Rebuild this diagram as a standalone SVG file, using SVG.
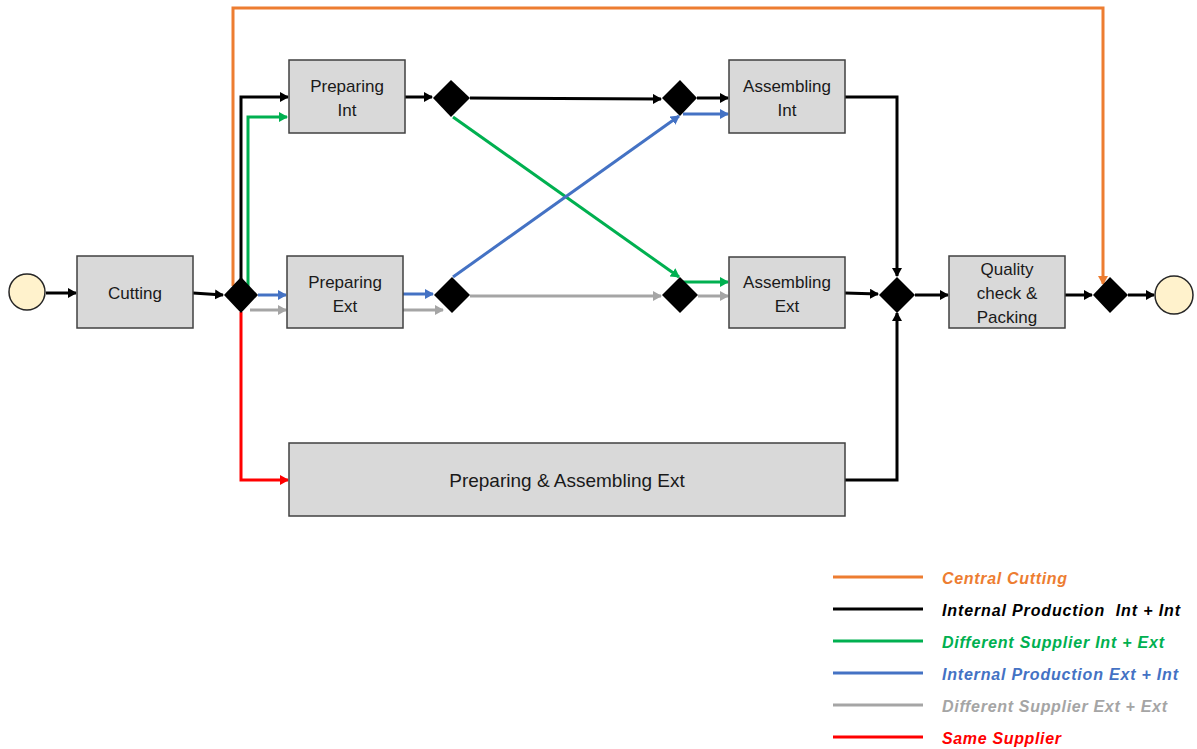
<svg xmlns="http://www.w3.org/2000/svg" width="1197" height="749" viewBox="0 0 1197 749">
<defs>
<style>
.box{fill:#D9D9D9;stroke:#404040;stroke-width:1.5}
.gw{fill:#000}
.ev{fill:#FFF2CC;stroke:#262626;stroke-width:1.5}
.t{font-family:"Liberation Sans",Arial,sans-serif;font-size:17px;fill:#1a1a1a;text-anchor:middle}
.c{fill:none;stroke-width:3}
.k{stroke:#000}
.o{stroke:#ED7D31}
.g{stroke:#00B050}
.b{stroke:#4472C4}
.y{stroke:#A5A5A5}
.r{stroke:#FF0000}
.lg{font-family:"Liberation Sans",Arial,sans-serif;font-size:16px;font-weight:bold;font-style:italic}
</style>
<marker id="ak" markerWidth="10" markerHeight="10" refX="8" refY="5" orient="auto" markerUnits="userSpaceOnUse"><path d="M0,0 L9,5 L0,10 z" fill="#000"/></marker>
<marker id="ao" markerWidth="10" markerHeight="10" refX="8" refY="5" orient="auto" markerUnits="userSpaceOnUse"><path d="M0,0 L9,5 L0,10 z" fill="#ED7D31"/></marker>
<marker id="ag" markerWidth="10" markerHeight="10" refX="8" refY="5" orient="auto" markerUnits="userSpaceOnUse"><path d="M0,0 L9,5 L0,10 z" fill="#00B050"/></marker>
<marker id="ab" markerWidth="10" markerHeight="10" refX="8" refY="5" orient="auto" markerUnits="userSpaceOnUse"><path d="M0,0 L9,5 L0,10 z" fill="#4472C4"/></marker>
<marker id="ay" markerWidth="10" markerHeight="10" refX="8" refY="5" orient="auto" markerUnits="userSpaceOnUse"><path d="M0,0 L9,5 L0,10 z" fill="#A5A5A5"/></marker>
<marker id="ar" markerWidth="10" markerHeight="10" refX="8" refY="5" orient="auto" markerUnits="userSpaceOnUse"><path d="M0,0 L9,5 L0,10 z" fill="#FF0000"/></marker>
</defs>
<rect width="1197" height="749" fill="#fff"/>

<g id="connectors">
<path class="c o" d="M233,286 V8 H1103 V284" marker-end="url(#ao)"/>
<path class="c k" d="M46,293 H76" marker-end="url(#ak)"/>
<path class="c k" d="M193,293 L223,295" marker-end="url(#ak)"/>
<path class="c k" d="M241,279 V97 H288" marker-end="url(#ak)"/>
<path class="c g" d="M248,287 V117 H287" marker-end="url(#ag)"/>
<path class="c b" d="M258,295 H286" marker-end="url(#ab)"/>
<path class="c y" d="M250,310 H286" marker-end="url(#ay)"/>
<path class="c r" d="M241,312 V480 H288" marker-end="url(#ar)"/>
<path class="c k" d="M405,97 H432" marker-end="url(#ak)"/>
<path class="c k" d="M470,98 L661,99" marker-end="url(#ak)"/>
<path class="c k" d="M697,98 H728" marker-end="url(#ak)"/>
<path class="c g" d="M453,117 L679,277" marker-end="url(#ag)"/>
<path class="c b" d="M453,277 L679,116" marker-end="url(#ab)"/>
<path class="c b" d="M683,114 H728" marker-end="url(#ab)"/>
<path class="c g" d="M683,282 H728" marker-end="url(#ag)"/>
<path class="c b" d="M403,294 H433" marker-end="url(#ab)"/>
<path class="c y" d="M403,310 H443" marker-end="url(#ay)"/>
<path class="c y" d="M470,296 L661,296" marker-end="url(#ay)"/>
<path class="c y" d="M698,296 H728" marker-end="url(#ay)"/>
<path class="c k" d="M845,97 H897 V276" marker-end="url(#ak)"/>
<path class="c k" d="M845,293 L878,294" marker-end="url(#ak)"/>
<path class="c k" d="M845,480 H897 V313" marker-end="url(#ak)"/>
<path class="c k" d="M915,295 H948" marker-end="url(#ak)"/>
<path class="c k" d="M1065,295 H1092" marker-end="url(#ak)"/>
<path class="c k" d="M1128,295 H1154" marker-end="url(#ak)"/>
</g>

<g id="start"><circle class="ev" cx="27" cy="292" r="18"/></g>
<g id="cutting"><rect class="box" x="77" y="256" width="116" height="72"/><text class="t" x="135" y="299">Cutting</text></g>
<g id="gw1"><path class="gw" d="M241,277 L258,295 L241,313 L224,295 z"/></g>
<g id="prep-int"><rect class="box" x="289" y="60" width="116" height="73"/><text class="t" x="347" y="92">Preparing</text><text class="t" x="347" y="116">Int</text></g>
<g id="prep-ext"><rect class="box" x="287" y="256" width="116" height="72"/><text class="t" x="345" y="288">Preparing</text><text class="t" x="345" y="312">Ext</text></g>
<g id="gw2"><path class="gw" d="M451,80 L470,98 L451,117 L433,98 z"/></g>
<g id="gw3"><path class="gw" d="M680,80 L697,98 L680,116 L662,98 z"/></g>
<g id="gw4"><path class="gw" d="M452,277 L470,295 L452,313 L434,295 z"/></g>
<g id="gw5"><path class="gw" d="M680,277 L698,295 L680,313 L662,295 z"/></g>
<g id="asm-int"><rect class="box" x="729" y="60" width="116" height="73"/><text class="t" x="787" y="92">Assembling</text><text class="t" x="787" y="116">Int</text></g>
<g id="asm-ext"><rect class="box" x="729" y="257" width="116" height="71"/><text class="t" x="787" y="288">Assembling</text><text class="t" x="787" y="312">Ext</text></g>
<g id="prep-asm-ext"><rect class="box" x="289" y="443" width="556" height="73"/><text class="t" x="567" y="487" style="font-size:19px">Preparing &amp; Assembling Ext</text></g>
<g id="gw6"><path class="gw" d="M897,277 L915,295 L897,313 L879,295 z"/></g>
<g id="quality"><rect class="box" x="949" y="256" width="116" height="72"/><text class="t" x="1007" y="275">Quality</text><text class="t" x="1007" y="299">check &amp;</text><text class="t" x="1007" y="323">Packing</text></g>
<g id="gw7"><path class="gw" d="M1110,277 L1128,295 L1110,313 L1093,295 z"/></g>
<g id="end"><circle class="ev" cx="1174" cy="295" r="19"/></g>

<g id="legend">
<path class="c o" d="M833,577 H923"/>
<path class="c k" d="M833,609 H923"/>
<path class="c g" d="M833,641 H923"/>
<path class="c b" d="M833,673 H923"/>
<path class="c y" d="M833,705 H923"/>
<path class="c r" d="M833,737 H923"/>
<text class="lg" x="942" y="584" fill="#ED7D31" textLength="125">Central Cutting</text>
<text class="lg" x="942" y="616" fill="#000" textLength="238" xml:space="preserve">Internal Production  Int + Int</text>
<text class="lg" x="942" y="648" fill="#00B050" textLength="222">Different Supplier Int + Ext</text>
<text class="lg" x="942" y="680" fill="#4472C4" textLength="236">Internal Production Ext + Int</text>
<text class="lg" x="942" y="712" fill="#A5A5A5" textLength="225">Different Supplier Ext + Ext</text>
<text class="lg" x="942" y="744" fill="#FF0000" textLength="119">Same Supplier</text>
</g>
</svg>
